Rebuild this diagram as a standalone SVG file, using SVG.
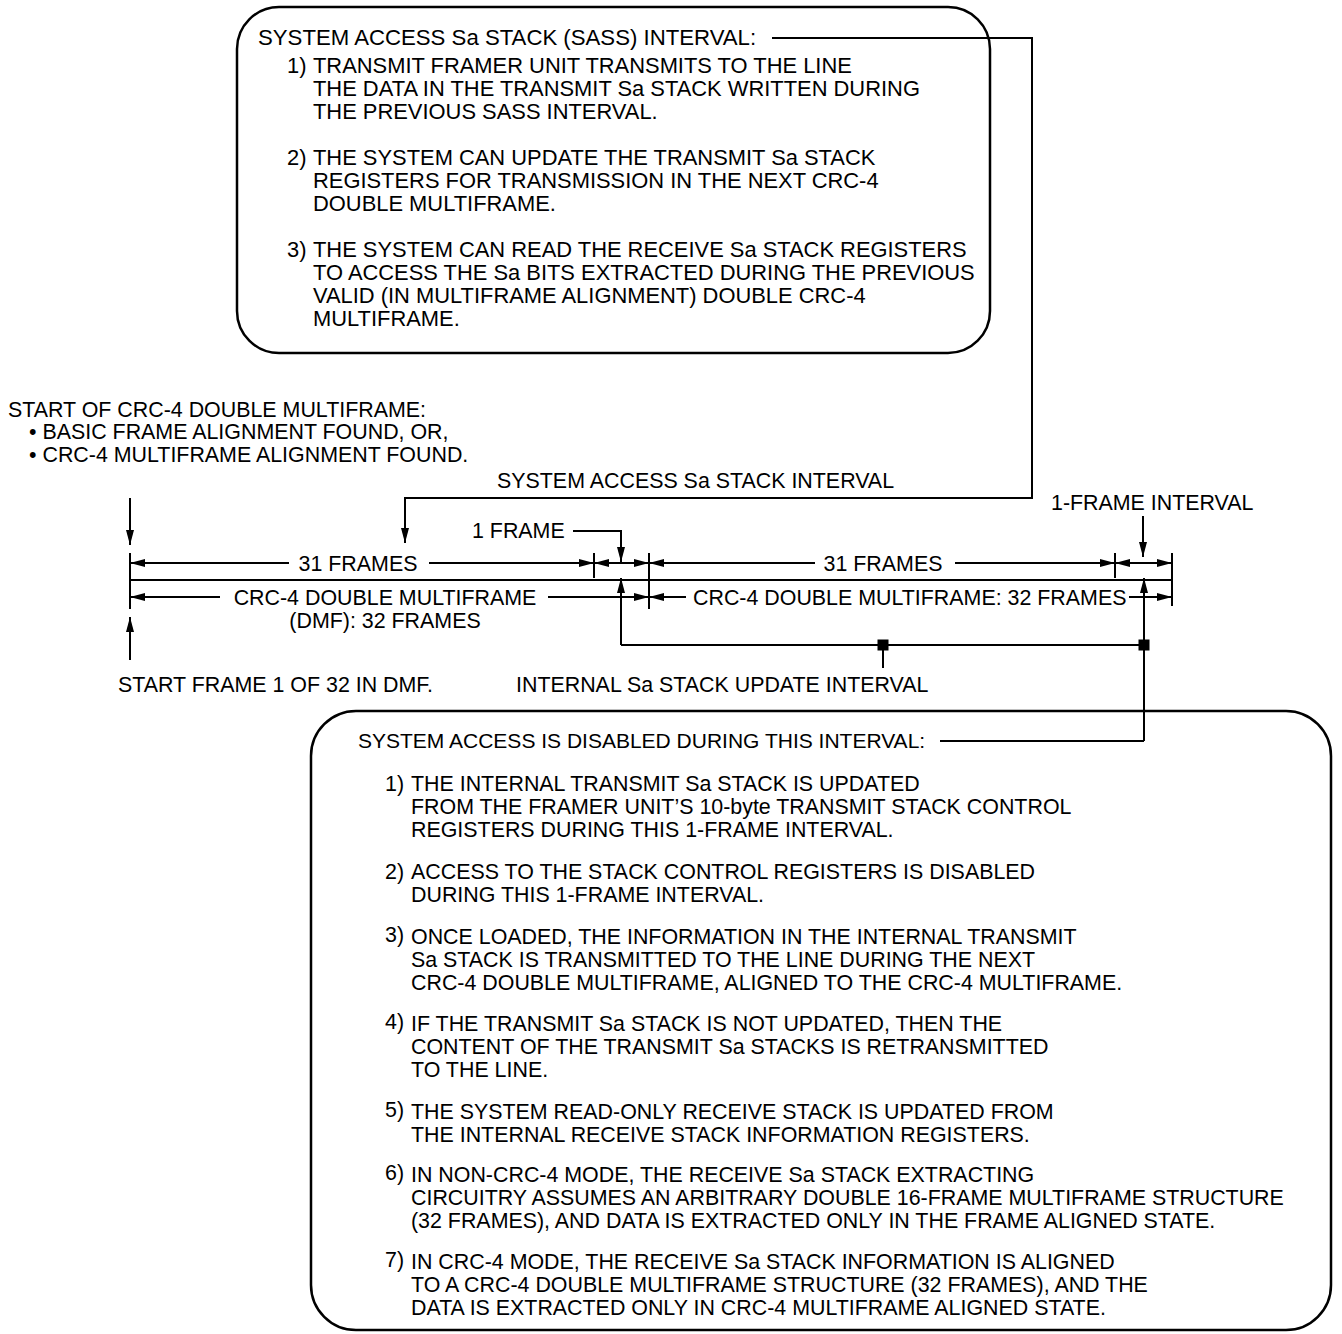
<svg xmlns="http://www.w3.org/2000/svg" width="1342" height="1334" viewBox="0 0 1342 1334">
<defs>
<style>
text{font-family:"Liberation Sans",Arial,Helvetica,sans-serif;fill:#000;}
.t22{font-size:21.9px;}
.t21{font-size:21.4px;}
.tb{font-size:21.4px;}
.box{fill:none;stroke:#000;stroke-width:2.5;}
.ln{fill:none;stroke:#000;stroke-width:2;}
.ar{fill:none;stroke:#000;stroke-width:2;marker-end:url(#ah);}
.ar2{fill:none;stroke:#000;stroke-width:2;marker-start:url(#ah);marker-end:url(#ah);}
.sq{fill:#000;}
</style>
<marker id="ah" markerUnits="userSpaceOnUse" markerWidth="16" markerHeight="10" refX="15" refY="4" orient="auto-start-reverse">
<path d="M0,0 L15,4 L0,8 Z" fill="#000"/>
</marker>
</defs>
<rect width="1342" height="1334" fill="#fff"/>

<g id="sass-box">
<rect class="box" x="237" y="7" width="753" height="346" rx="42" ry="42"/>
<text class="t22" x="258" y="45" style="font-size:22.2px">SYSTEM ACCESS Sa STACK (SASS) INTERVAL:</text>
<text class="t22" x="287" y="73">1)</text>
<text class="t22" x="313" y="73">TRANSMIT FRAMER UNIT TRANSMITS TO THE LINE</text>
<text class="t22" x="313" y="96">THE DATA IN THE TRANSMIT Sa STACK WRITTEN DURING</text>
<text class="t22" x="313" y="119">THE PREVIOUS SASS INTERVAL.</text>
<text class="t22" x="287" y="165">2)</text>
<text class="t22" x="313" y="165">THE SYSTEM CAN UPDATE THE TRANSMIT Sa STACK</text>
<text class="t22" x="313" y="188">REGISTERS FOR TRANSMISSION IN THE NEXT CRC-4</text>
<text class="t22" x="313" y="211">DOUBLE MULTIFRAME.</text>
<text class="t22" x="287" y="257">3)</text>
<text class="t22" x="313" y="257">THE SYSTEM CAN READ THE RECEIVE Sa STACK REGISTERS</text>
<text class="t22" x="313" y="280">TO ACCESS THE Sa BITS EXTRACTED DURING THE PREVIOUS</text>
<text class="t22" x="313" y="303">VALID (IN MULTIFRAME ALIGNMENT) DOUBLE CRC-4</text>
<text class="t22" x="313" y="326">MULTIFRAME.</text>
</g>

<g id="start-dmf-label">
<text class="t21" x="8" y="417">START OF CRC-4 DOUBLE MULTIFRAME:</text>
<text class="t21" x="29" y="439">• BASIC FRAME ALIGNMENT FOUND, OR,</text>
<text class="t21" x="29" y="462">• CRC-4 MULTIFRAME ALIGNMENT FOUND.</text>
</g>

<g id="sass-interval-label">
<text class="t21" x="497" y="488">SYSTEM ACCESS Sa STACK INTERVAL</text>
</g>

<g id="one-frame-interval-label">
<text class="t21" x="1051" y="510">1-FRAME INTERVAL</text>
</g>

<g id="timeline-labels">
<text class="t21" x="472" y="538">1 FRAME</text>
<text class="t21" x="358" y="570.5" text-anchor="middle">31 FRAMES</text>
<text class="t21" x="883" y="570.5" text-anchor="middle">31 FRAMES</text>
<text class="t21" x="385" y="605" text-anchor="middle">CRC-4 DOUBLE MULTIFRAME</text>
<text class="t21" x="385" y="628" text-anchor="middle">(DMF): 32 FRAMES</text>
<text class="t21" x="693" y="605">CRC-4 DOUBLE MULTIFRAME: 32 FRAMES</text>
</g>

<g id="start-frame-label">
<text class="t21" x="118" y="692">START FRAME 1 OF 32 IN DMF.</text>
</g>

<g id="update-interval-label">
<text class="t21" x="516" y="692">INTERNAL Sa STACK UPDATE INTERVAL</text>
</g>

<g id="disabled-box">
<rect class="box" x="311" y="711" width="1020" height="619" rx="45" ry="45"/>
<text class="t21" x="358" y="748" style="font-size:21px">SYSTEM ACCESS IS DISABLED DURING THIS INTERVAL:</text>
<text class="tb" x="385" y="791">1)</text>
<text class="tb" x="411" y="791">THE INTERNAL TRANSMIT Sa STACK IS UPDATED</text>
<text class="tb" x="411" y="814">FROM THE FRAMER UNIT’S 10-byte TRANSMIT STACK CONTROL</text>
<text class="tb" x="411" y="837">REGISTERS DURING THIS 1-FRAME INTERVAL.</text>
<text class="tb" x="385" y="879">2)</text>
<text class="tb" x="411" y="879">ACCESS TO THE STACK CONTROL REGISTERS IS DISABLED</text>
<text class="tb" x="411" y="902">DURING THIS 1-FRAME INTERVAL.</text>
<text class="tb" x="385" y="942">3)</text>
<text class="tb" x="411" y="944">ONCE LOADED, THE INFORMATION IN THE INTERNAL TRANSMIT</text>
<text class="tb" x="411" y="967">Sa STACK IS TRANSMITTED TO THE LINE DURING THE NEXT</text>
<text class="tb" x="411" y="990">CRC-4 DOUBLE MULTIFRAME, ALIGNED TO THE CRC-4 MULTIFRAME.</text>
<text class="tb" x="385" y="1029">4)</text>
<text class="tb" x="411" y="1031">IF THE TRANSMIT Sa STACK IS NOT UPDATED, THEN THE</text>
<text class="tb" x="411" y="1054">CONTENT OF THE TRANSMIT Sa STACKS IS RETRANSMITTED</text>
<text class="tb" x="411" y="1077">TO THE LINE.</text>
<text class="tb" x="385" y="1117">5)</text>
<text class="tb" x="411" y="1119">THE SYSTEM READ-ONLY RECEIVE STACK IS UPDATED FROM</text>
<text class="tb" x="411" y="1142">THE INTERNAL RECEIVE STACK INFORMATION REGISTERS.</text>
<text class="tb" x="385" y="1180">6)</text>
<text class="tb" x="411" y="1182">IN NON-CRC-4 MODE, THE RECEIVE Sa STACK EXTRACTING</text>
<text class="tb" x="411" y="1205">CIRCUITRY ASSUMES AN ARBITRARY DOUBLE 16-FRAME MULTIFRAME STRUCTURE</text>
<text class="tb" x="411" y="1228">(32 FRAMES), AND DATA IS EXTRACTED ONLY IN THE FRAME ALIGNED STATE.</text>
<text class="tb" x="385" y="1267">7)</text>
<text class="tb" x="411" y="1269">IN CRC-4 MODE, THE RECEIVE Sa STACK INFORMATION IS ALIGNED</text>
<text class="tb" x="411" y="1292">TO A CRC-4 DOUBLE MULTIFRAME STRUCTURE (32 FRAMES), AND THE</text>
<text class="tb" x="411" y="1315">DATA IS EXTRACTED ONLY IN CRC-4 MULTIFRAME ALIGNED STATE.</text>
</g>

<g id="connectors">
<path class="ar" d="M772,38 L1032,38 L1032,498 L405,498 L405,543"/>
<path class="ar" d="M130,498 L130,545"/>
<path class="ar" d="M130,660 L130,617"/>
<path class="ar" d="M573,531 L621,531 L621,562"/>
<path class="ar" d="M1143,516 L1143,557"/>
<path class="ln" d="M130,580 L1172,580"/>
<path class="ln" d="M130,553 L130,609 M594,553 L594,578 M649,553 L649,609 M1115,553 L1115,578 M1172,553 L1172,606"/>
<path class="ar" d="M289,563 L130,563"/>
<path class="ar" d="M429,563 L594,563"/>
<path class="ar2" d="M594,563 L649,563"/>
<path class="ar" d="M815,563 L649,563"/>
<path class="ar" d="M955,563 L1115,563"/>
<path class="ar2" d="M1115,563 L1172,563"/>
<path class="ar" d="M220,597 L130,597"/>
<path class="ar" d="M548,597 L649,597"/>
<path class="ar" d="M686,597 L649,597"/>
<path class="ar" d="M1129,597 L1172,597"/>
<path class="ar" d="M621,645 L621,578"/>
<path class="ln" d="M621,645 L1144,645"/>
<path class="ar" d="M1144,741 L1144,578"/>
<path class="ln" d="M883,645 L883,668"/>
<rect class="sq" x="877.5" y="639.5" width="11" height="11"/>
<rect class="sq" x="1138.5" y="639.5" width="11" height="11"/>
<path class="ln" d="M940,741 L1144,741"/>
</g>
</svg>
